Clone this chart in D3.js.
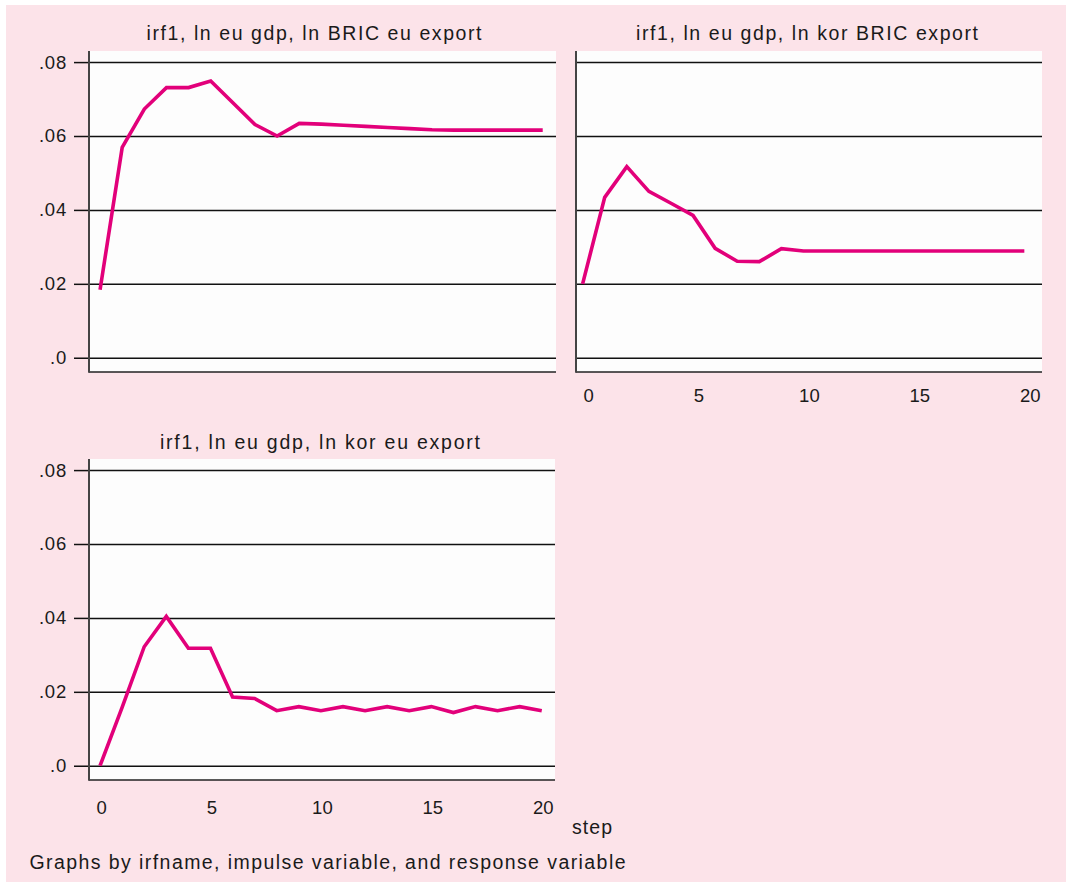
<!DOCTYPE html>
<html><head><meta charset="utf-8">
<script src="https://cdn.jsdelivr.net/npm/d3@7"></script>
<style>
html,body{margin:0;padding:0;background:#fff;}
svg{display:block;}
text{font-family:"Liberation Sans",Arial,sans-serif;fill:#1a1a1a;}
</style>
</head><body>
<svg id="c" width="1071" height="887"></svg>
<script>
// ---- data ----
const steps = [0,1,2,3,4,5,6,7,8,9,10,11,12,13,14,15,16,17,18,19,20];
const respBRICeu = [0.0184,0.0569,0.0673,0.0731,0.0731,0.0749,0.0690,0.0631,0.0600,0.0634,0.0632,0.0629,0.0626,0.0623,0.0620,0.0617,0.0616,0.0616,0.0616,0.0616,0.0616];
const respKorBRIC = [0.0200,0.0434,0.0517,0.0450,0.0418,0.0385,0.0296,0.0261,0.0260,0.0295,0.0289,0.0289,0.0289,0.0289,0.0289,0.0289,0.0289,0.0289,0.0289,0.0289,0.0289];
const respKorEu = [0.0000,0.0158,0.0322,0.0404,0.0318,0.0318,0.0186,0.0182,0.0149,0.0160,0.0149,0.0160,0.0149,0.0160,0.0149,0.0160,0.0144,0.0160,0.0149,0.0160,0.0149];
const yTickValues = [0,0.02,0.04,0.06,0.08];
const yTickLabels = [".0",".02",".04",".06",".08"];
const xTickValues = [0,5,10,15,20];
const xTickLabels = ["0","5","10","15","20"];
const panelTitles = ["irf1, ln eu gdp, ln BRIC eu export","irf1, ln eu gdp, ln kor BRIC export","irf1, ln eu gdp, ln kor eu export"];
const xAxisTitle = "step";
const noteText = "Graphs by irfname, impulse variable, and response variable";

// ---- layout ----
const svg = d3.select("#c");
svg.append("rect").attr("x",6).attr("y",5).attr("width",1060).attr("height",877).attr("fill","#fce3e9");

const panels = [
  {title:panelTitles[0], values:respBRICeu, x:89,  y:51,  w:467, h:321, yLabels:true,  xLabels:false, titleX:314, titleW:335, titleY:40},
  {title:panelTitles[1], values:respKorBRIC, x:576, y:51,  w:466, h:321, yLabels:false, xLabels:true,  titleX:807, titleW:342, titleY:40, xLabelY:401.5, lineShift:-0.2},
  {title:panelTitles[2], values:respKorEu,  x:89,  y:459, w:466, h:321, yLabels:true,  xLabels:true,  titleX:320, titleW:320, titleY:449, xLabelY:814}
];

panels.forEach(p => {
  const xS = d3.scaleLinear().domain([-0.5,20.6]).range([p.x, p.x+p.w]);
  const yS = d3.scaleLinear().domain([-0.00386,0.083]).range([p.y+p.h, p.y]);
  const g = svg.append("g");

  g.append("rect").attr("x",p.x).attr("y",p.y).attr("width",p.w).attr("height",p.h).attr("fill","#fdfdfd");

  // gridlines
  const grid = g.append("g").attr("transform",`translate(${p.x},0)`)
    .call(d3.axisLeft(yS).tickValues(yTickValues).tickSize(-p.w).tickFormat(""));
  grid.select(".domain").remove();
  grid.selectAll("line").attr("stroke","#111").attr("stroke-width",1.5);

  if (p.yLabels) {
    const ya = g.append("g").attr("transform",`translate(${p.x},0)`)
      .call(d3.axisLeft(yS).tickValues(yTickValues).tickSize(15).tickPadding(7)
        .tickFormat((d,i)=>yTickLabels[i]));
    ya.select(".domain").remove();
    ya.selectAll("line").attr("stroke","#111").attr("stroke-width",1.5);
    ya.selectAll("text").attr("font-family",'"Liberation Sans",Arial,sans-serif')
      .attr("font-size",18.5).attr("fill","#1a1a1a").attr("letter-spacing","0.8px");
  }

  // axis lines
  g.append("line").attr("x1",p.x).attr("x2",p.x+p.w).attr("y1",p.y+p.h).attr("y2",p.y+p.h)
    .attr("stroke","#222").attr("stroke-width",1.6);
  g.append("line").attr("x1",p.x).attr("x2",p.x).attr("y1",p.y).attr("y2",p.y+p.h+0.8)
    .attr("stroke","#444").attr("stroke-width",2);

  if (p.xLabels) {
    const xa = g.append("g").attr("transform",`translate(0,${p.y+p.h})`)
      .call(d3.axisBottom(xS).tickValues(xTickValues).tickSize(0).tickFormat((d,i)=>xTickLabels[i]));
    xa.select(".domain").remove();
    xa.selectAll("text").attr("font-family",'"Liberation Sans",Arial,sans-serif')
      .attr("font-size",18.5).attr("fill","#1a1a1a")
      .attr("y", p.xLabelY-(p.y+p.h)).attr("dy",0).attr("dx",1);
  }

  // response line
  const shift = p.lineShift || 0;
  const line = d3.line().x((d,i)=>xS(steps[i]+shift)).y(d=>yS(d));
  g.append("path").datum(p.values).attr("d",line).attr("fill","none")
    .attr("stroke","#e2007a").attr("stroke-width",3.6).attr("stroke-linejoin","miter");

  // title
  g.append("text").attr("x",p.titleX).attr("y",p.titleY).attr("text-anchor","middle")
    .attr("font-size",19.5).attr("textLength",p.titleW).attr("lengthAdjust","spacing").text(p.title);
});

svg.append("text").attr("x",592).attr("y",834).attr("text-anchor","middle").attr("font-size",19.5)
  .attr("textLength",40).attr("lengthAdjust","spacing").text(xAxisTitle);
svg.append("text").attr("x",29.5).attr("y",869).attr("font-size",19.5)
  .attr("textLength",596).attr("lengthAdjust","spacing").text(noteText);
</script>
</body></html>
